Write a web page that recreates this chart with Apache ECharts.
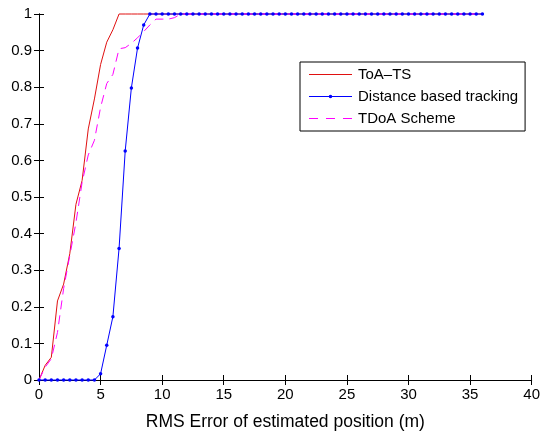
<!DOCTYPE html>
<html>
<head>
<meta charset="utf-8">
<script src="https://cdn.jsdelivr.net/npm/echarts@6/dist/echarts.min.js"></script>
<style>
html,body{margin:0;padding:0;background:#fff;}
#chart{width:543px;height:436px;}
</style>
</head>
<body>
<div id="chart"></div>
<script>
// x grid of the CDF (m)
var xValues = [0,0.5,1,1.5,2,2.5,3,3.5,4,4.5,5,5.5,6,6.5,7,7.5,8,8.5,9,9.5,
  10,10.5,11,11.5,12,12.5,13,13.5,14,14.5,15,15.5,16,16.5,17,17.5,18,18.5,19,19.5,
  20,20.5,21,21.5,22,22.5,23,23.5,24,24.5,25,25.5,26,26.5,27,27.5,28,28.5,29,29.5,
  30,30.5,31,31.5,32,32.5,33,33.5,34,34.5,35,35.5,36];

var toaTS = [0,0.04,0.062,0.216,0.262,0.345,0.48,0.545,0.686,0.768,0.862,0.923,0.957,1,1,1,1,1,1,1,
  1,1,1,1,1,1,1,1,1,1,1,1,1,1,1,1,1,1,1,1,
  1,1,1,1,1,1,1,1,1,1,1,1,1,1,1,1,1,1,1,1,
  1,1,1,1,1,1,1,1,1,1,1,1,1];

var distTracking = [0,0,0,0,0,0,0,0,0,0,0.017,0.095,0.173,0.359,0.626,0.798,0.907,0.97,1,1,
  1,1,1,1,1,1,1,1,1,1,1,1,1,1,1,1,1,1,1,1,
  1,1,1,1,1,1,1,1,1,1,1,1,1,1,1,1,1,1,1,1,
  1,1,1,1,1,1,1,1,1,1,1,1,1];

var tdoa = [0,0.035,0.058,0.13,0.25,0.34,0.43,0.54,0.615,0.655,0.745,0.81,0.835,0.905,0.908,0.92,0.935,0.952,0.97,0.986,
  0.986,0.986,0.99,1,1,1,1,1,1,1,1,1,1,1,1,1,1,1,1,1,
  1,1,1,1,1,1,1,1,1,1,1,1,1,1,1,1,1,1,1,1,
  1,1,1,1,1,1,1,1,1,1,1,1,1];

var xTicks = [0,5,10,15,20,25,30,35,40];
var yTicks = ['0','0.1','0.2','0.3','0.4','0.5','0.6','0.7','0.8','0.9','1'];
var seriesNames = ['ToA\u2013TS','Distance based tracking','TDoA Scheme'];
var xAxisTitle = 'RMS Error of estimated position (m)';

function pairs(xs, ys){ return xs.map(function(x,i){ return [x, ys[i]]; }); }

var FONT = '"Liberation Sans", Arial, Helvetica, sans-serif';
var axisCommon = {
  axisLine:{show:true, lineStyle:{color:'#000', width:1}},
  axisTick:{show:true, inside:true, length:5, lineStyle:{color:'#000', width:1}},
  splitLine:{show:false}
};

// legend sample glyphs (43 x 14 box)
var iconSolid = 'path://M0,6.5h43v1h-43z';
var iconDot = 'path://M0,6.5h43v1h-43z M19.7,7a1.8,1.8 0 1,1 3.6,0a1.8,1.8 0 1,1 -3.6,0z';
var iconDash = 'path://M0,6.5h9v1h-9z M17,6.5h9v1h-9z M34,6.5h9v1h-9z';

var chart = echarts.init(document.getElementById('chart'), null, {renderer:'canvas'});
chart.setOption({
  animation:false,
  backgroundColor:'#fff',
  grid:{left:39, right:11, top:14, bottom:53, containLabel:false},
  xAxis:[
    Object.assign({type:'value', min:0, max:40, interval:5, position:'bottom',
      name:xAxisTitle, nameLocation:'middle', nameGap:33,
      nameTextStyle:{fontFamily:FONT, fontSize:17.5, color:'#000'},
      axisLabel:{show:true, margin:7, fontFamily:FONT, fontSize:15, color:'#000',
        formatter:function(v){ return xTicks.indexOf(v) >= 0 ? String(v) : ''; }}
    }, axisCommon),
    Object.assign({type:'value', min:0, max:40, interval:5, position:'top',
      axisLabel:{show:false}}, axisCommon)
  ],
  yAxis:[
    Object.assign({type:'value', min:0, max:1, interval:0.1, position:'left',
      axisLabel:{show:true, margin:7, fontFamily:FONT, fontSize:15, color:'#000',
        formatter:function(v){ return yTicks[Math.round(v*10)]; }}
    }, axisCommon),
    Object.assign({type:'value', min:0, max:1, interval:0.1, position:'right',
      axisLabel:{show:false}}, axisCommon)
  ],
  legend:{
    orient:'vertical', left:300, top:62,
    backgroundColor:'#fff', borderColor:'#000', borderWidth:1, borderRadius:0,
    padding:[5,7,5,9], itemGap:7, itemWidth:43, itemHeight:14,
    textStyle:{fontFamily:FONT, fontSize:15, color:'#000', padding:[0,0,0,1]},
    data:[
      {name:seriesNames[0], icon:iconSolid, itemStyle:{color:'#e01010'}},
      {name:seriesNames[1], icon:iconDot, itemStyle:{color:'#0000ff'}},
      {name:seriesNames[2], icon:iconDash, itemStyle:{color:'#ff00ff'}}
    ]
  },
  series:[
    {name:seriesNames[0], type:'line', data:pairs(xValues, toaTS),
      symbol:'none', showSymbol:false, clip:false,
      lineStyle:{color:'#e01010', width:1}, itemStyle:{color:'#e01010'}},
    {name:seriesNames[1], type:'line', data:pairs(xValues, distTracking),
      symbol:'circle', symbolSize:3.5, showSymbol:true, clip:false,
      lineStyle:{color:'#0000ff', width:1}, itemStyle:{color:'#0000ff'}},
    {name:seriesNames[2], type:'line', data:pairs(xValues, tdoa),
      symbol:'none', showSymbol:false, clip:false,
      lineStyle:{color:'#ff00ff', width:1, type:[9,6]}, itemStyle:{color:'#ff00ff'}}
  ]
});
</script>
</body>
</html>
